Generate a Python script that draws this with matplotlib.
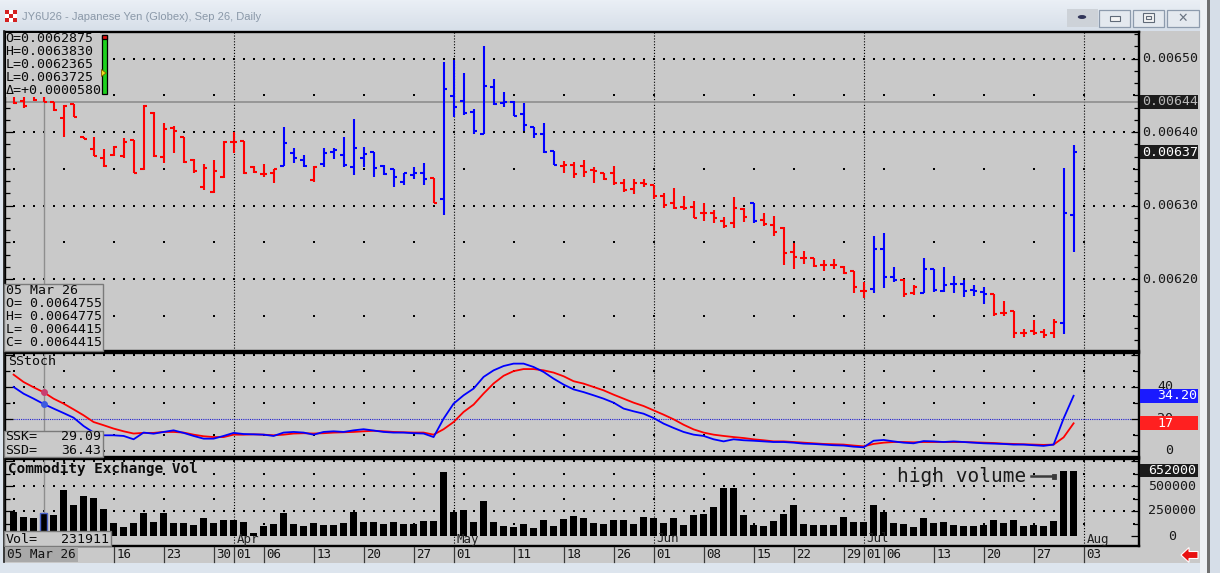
import numpy as np
import pandas as pd
import matplotlib
matplotlib.use("Agg")
import matplotlib.pyplot as plt
from matplotlib.patches import Rectangle, Polygon, Circle
from matplotlib.lines import Line2D
from matplotlib.ticker import MultipleLocator
from matplotlib.colors import LinearSegmentedColormap
import matplotlib.transforms as mtransforms

W, H = 1220, 573

# ---------------- data ----------------
PRICE_UNIT = 1e-7   # prices below are in units of 0.0000001
open_px = [64700, 64420, 64600, 64755, 64411, 64194, 64384, 63935, 63772, 63650,
           63690, 63676, 63894, 63500, 64261, 63663, 64057, 63935, 63622, 63255,
           63187, 63391, 63867, 63880, 63527, 63432, 63445, 63540, 63717, 63622,
           63350, 63568, 63731, 63690, 63527, 63650, 63731, 63540, 63500, 63323,
           63418, 63445, 63377, 63092, 64493, 64425, 64275, 63976, 64615, 64398,
           64411, 64248, 64071, 63976, 63744, 63540, 63554, 63540, 63486, 63445,
           63445, 63309, 63228, 63309, 63282, 63132, 63037, 62983, 62983, 62901,
           62901, 62793, 62765, 62956, 63037, 62806, 62738, 62698, 62371, 62289,
           62289, 62194, 62194, 62167, 62113, 61840, 61868, 62412, 62031, 61990,
           61813, 61813, 62140, 61840, 61936, 61936, 61854, 61827, 61800, 61541,
           61568, 61269, 61296, 61283, 61269, 61405, 62875]
high_px = [64780, 64600, 64650, 64775, 64415, 64370, 64384, 63935, 63935, 63772,
           63812, 63921, 63894, 64370, 64275, 64125, 64084, 63935, 63636, 63568,
           63622, 63880, 64003, 63880, 63540, 63568, 63500, 64071, 63785, 63690,
           63540, 63785, 63785, 63935, 64180, 63799, 63731, 63554, 63500, 63445,
           63527, 63581, 63377, 64955, 64982, 64805, 64316, 65173, 64724, 64547,
           64425, 64398, 64071, 64125, 63744, 63609, 63595, 63622, 63527, 63445,
           63540, 63364, 63364, 63364, 63282, 63173, 63241, 63132, 63064, 63037,
           62942, 62847, 63119, 62969, 63037, 62901, 62860, 62711, 62494, 62385,
           62289, 62262, 62276, 62181, 62113, 61963, 62588, 62629, 62167, 62004,
           61922, 62289, 62140, 62167, 62044, 61990, 61922, 61895, 61800, 61705,
           61568, 61324, 61446, 61324, 61460, 63513, 63830]
low_px = [64384, 64329, 64430, 64415, 64289, 63935, 64207, 63908, 63676, 63527,
          63676, 63650, 63445, 63486, 63663, 63581, 63717, 63581, 63445, 63214,
          63173, 63377, 63717, 63432, 63445, 63391, 63309, 63540, 63581, 63527,
          63323, 63527, 63636, 63527, 63418, 63527, 63391, 63418, 63255, 63282,
          63364, 63282, 63038, 62874, 64207, 64234, 63976, 63976, 64370, 64343,
          64220, 64016, 63921, 63717, 63554, 63445, 63377, 63391, 63309, 63350,
          63282, 63187, 63160, 63255, 63092, 62969, 62956, 62942, 62834, 62793,
          62765, 62698, 62698, 62779, 62765, 62724, 62588, 62194, 62140, 62208,
          62167, 62113, 62140, 62072, 61813, 61745, 61813, 61881, 61963, 61759,
          61786, 61813, 61827, 61827, 61813, 61759, 61772, 61664, 61501, 61501,
          61201, 61215, 61242, 61201, 61201, 61256, 62365]
close_px = [64400, 64356, 64440, 64415, 64302, 64356, 64207, 63908, 63676, 63540,
            63799, 63867, 63445, 64356, 63676, 64044, 64016, 63595, 63472, 63513,
            63472, 63867, 63860, 63445, 63459, 63430, 63500, 63853, 63650, 63540,
            63527, 63717, 63758, 63554, 63785, 63704, 63513, 63432, 63391, 63445,
            63445, 63364, 63038, 64588, 64343, 64261, 64016, 64629, 64384, 64411,
            64220, 64098, 63976, 63731, 63554, 63554, 63432, 63459, 63472, 63364,
            63309, 63214, 63309, 63296, 63132, 63010, 62969, 62969, 62834, 62901,
            62834, 62724, 62969, 62847, 62793, 62752, 62643, 62358, 62303, 62289,
            62181, 62194, 62194, 62085, 61894, 61840, 62412, 62031, 61990, 61800,
            61895, 62140, 61854, 61922, 61936, 61840, 61840, 61800, 61528, 61541,
            61269, 61269, 61269, 61242, 61419, 62901, 63725]
# bar colour codes: R = red, B = blue
bar_codes = ("RRRRRRRRRRRRRRRRRRRRRRRRRRR" "BBB" "R" "BBBBBBBBBBB" "R"
             "BBBBBBBBBBBB" "RRRRRRRRRRRRRRRRRRR" "B" "RRRRRRRRRRR" "BBB" "RR"
             "BBBBBBB" "RRRRRRR" "BB")
volume = [245000, 194000, 184000, 231911, 211000, 456000, 313000, 405000, 377000, 272000,
          126000, 92000, 126000, 228000, 143000, 228000, 126000, 126000, 109000, 177000,
          126000, 160000, 160000, 136000, 34000, 102000, 116000, 228000, 116000, 102000,
          126000, 109000, 109000, 126000, 238000, 143000, 143000, 119000, 136000, 119000,
          119000, 150000, 150000, 636000, 238000, 262000, 136000, 354000, 136000, 102000,
          92000, 116000, 82000, 158000, 102000, 170000, 201000, 184000, 126000, 119000,
          160000, 160000, 119000, 190000, 177000, 126000, 177000, 109000, 211000, 218000,
          286000, 483000, 483000, 211000, 109000, 99000, 150000, 218000, 313000, 116000,
          109000, 109000, 109000, 187000, 143000, 143000, 313000, 238000, 126000, 116000,
          92000, 177000, 133000, 143000, 109000, 102000, 102000, 109000, 160000, 127000,
          160000, 100000, 110000, 100000, 150000, 648000, 652000]
ssk = [39.7, 35.5, 32.4, 29.09, 26.2, 23.4, 20.5, 15.3, 11.2, 9.5,
       9.5, 9.1, 7.0, 11.2, 10.5, 11.6, 12.6, 11.0, 9.1, 7.4,
       7.4, 9.1, 11.0, 10.3, 10.1, 9.9, 9.1, 11.2, 11.6, 11.2,
       9.9, 11.6, 12.0, 11.6, 12.6, 13.3, 12.5, 11.6, 11.2, 11.2,
       10.8, 10.6, 8.4, 19.9, 29.3, 34.5, 38.7, 46.0, 50.1, 52.8,
       54.3, 54.3, 52.2, 49.1, 44.9, 41.2, 38.2, 36.5, 34.5, 32.4,
       29.9, 26.2, 24.5, 23.0, 20.3, 16.8, 14.1, 11.6, 9.9, 9.1,
       7.0, 5.7, 7.0, 6.4, 6.1, 5.7, 5.3, 5.3, 4.9, 4.3,
       4.1, 3.7, 3.3, 3.1, 2.4, 2.0, 6.1, 6.6, 5.7, 4.9,
       4.5, 5.9, 5.7, 5.3, 5.7, 5.3, 4.9, 4.5, 4.3, 4.1,
       3.7, 3.7, 3.3, 2.9, 3.7, 20.0, 34.20]
ssd = [47.4, 42.8, 39.5, 36.43, 32.4, 29.3, 25.7, 22.0, 17.8, 15.8,
       13.7, 12.0, 10.6, 11.0, 11.0, 11.6, 11.6, 11.2, 9.9, 8.9,
       8.4, 8.4, 9.9, 9.9, 10.1, 9.9, 9.5, 9.9, 10.6, 10.8,
       10.6, 10.8, 11.2, 11.4, 11.6, 12.0, 12.3, 12.0, 11.6, 11.4,
       11.2, 11.2, 9.9, 13.3, 17.8, 24.1, 28.7, 35.6, 41.9, 46.7,
       49.6, 50.9, 50.9, 50.1, 48.7, 46.4, 43.3, 41.8, 39.7, 37.6,
       34.9, 32.4, 29.9, 27.8, 25.1, 22.4, 19.5, 16.1, 13.2, 11.2,
       9.9, 9.1, 8.4, 7.8, 7.0, 6.4, 5.7, 5.7, 5.3, 4.9,
       4.5, 4.1, 3.9, 3.7, 3.1, 2.6, 4.1, 4.9, 5.3, 5.3,
       5.1, 5.3, 5.3, 5.3, 5.3, 5.3, 5.1, 4.9, 4.7, 4.3,
       4.1, 3.9, 3.7, 3.5, 3.7, 8.2, 17.0]

holidays = ["2026-05-25", "2026-06-19", "2026-07-03"]
first_date, last_date, axis_end_date = "2026-03-02", "2026-07-31", "2026-08-21"
selected_date = "2026-03-05"
label_dates = ["2026-03-16", "2026-03-23", "2026-03-30", "2026-04-01", "2026-04-06",
               "2026-04-13", "2026-04-20", "2026-04-27", "2026-05-01", "2026-05-11",
               "2026-05-18", "2026-05-26", "2026-06-01", "2026-06-08", "2026-06-15",
               "2026-06-22", "2026-06-29", "2026-07-01", "2026-07-06", "2026-07-13",
               "2026-07-20", "2026-07-27", "2026-08-03"]
month_dates = ["2026-04-01", "2026-05-01", "2026-06-01", "2026-07-01", "2026-08-03"]
month_names = ["Apr", "May", "Jun", "Jul", "Aug"]
price_levels = [0.0062, 0.0063, 0.0064, 0.0065]
price_half_levels = [0.00615, 0.00625, 0.00635, 0.00645]
stoch_levels = [0, 40, 60]
stoch_half_levels = [10, 30, 50]
stoch_labels = [0, 20, 40]
vol_levels = [250000, 500000, 750000]
vol_half_levels = [125000, 375000, 625000]
vol_labels = [0, 250000, 500000]
title_text = "JY6U26 - Japanese Yen (Globex), Sep 26, Daily"
last_change_text = "\u0394=+0.0000580"

# ---------------- derived ----------------
all_dates = pd.bdate_range(first_date, axis_end_date)
all_dates = all_dates[~all_dates.isin(pd.to_datetime(holidays))]
pos = {d: i for i, d in enumerate(all_dates)}
n = len(open_px)
x = np.arange(n)
O = np.array(open_px) * PRICE_UNIT
Hh = np.array(high_px) * PRICE_UNIT
L = np.array(low_px) * PRICE_UNIT
C = np.array(close_px) * PRICE_UNIT
RED, BLUE = "#ff0000", "#0000ff"
cols = [RED if c == "R" else BLUE for c in bar_codes]
sel = pos[pd.Timestamp(selected_date)]
week_starts = sorted(set(pd.Series(range(len(all_dates)),
                                   index=all_dates).groupby(all_dates.to_period("W")).min()))
label_pos = [pos[pd.Timestamp(d)] for d in label_dates]
month_pos = [pos[pd.Timestamp(d)] for d in month_dates]

PANEL = "#c9c9c9"
MONO = "DejaVu Sans Mono"
XLIM = (-0.86, 112.54)

fig = plt.figure(figsize=(W / 100, H / 100), dpi=100)
fig.patch.set_facecolor("#dde5ee")


def px_axes(l, t, r, b):
    return fig.add_axes([l / W, 1 - b / H, (r - l) / W, (b - t) / H])


def frect(l, t, r, b, **kw):
    p = Rectangle((l / W, 1 - b / H), (r - l) / W, (b - t) / H,
                  transform=fig.transFigure, **kw)
    fig.add_artist(p)
    return p


def ftext(xp, yp, s, **kw):
    return fig.text(xp / W, 1 - yp / H, s, **kw)


# background pieces
frect(3, 31, 1200, 563, facecolor=PANEL, edgecolor="none", zorder=-2)
frect(1200, 0, 1207, 573, facecolor="#eef1f5", edgecolor="none", zorder=-2)
frect(1207, 0, 1210, 573, facecolor="#707070", edgecolor="none", zorder=-2)
frect(1210, 0, 1220, 573, facecolor="#d6dee8", edgecolor="none", zorder=-2)

# title bar
ax_t = px_axes(0, 0, 1200, 31)
grad = np.linspace(0, 1, 31).reshape(-1, 1)
ax_t.imshow(grad, aspect="auto", cmap=LinearSegmentedColormap.from_list("tb", ["#eaeff5", "#d7dfe9"]),
            extent=(0, 1, 0, 1))
ax_t.set_axis_off()
ax_t.set_zorder(-1)
# icon
for r_ in range(3):
    for c_ in range(3):
        frect(5 + c_ * 4, 10 + r_ * 4, 9 + c_ * 4, 14 + r_ * 4,
              facecolor=("#d42020" if (r_ + c_) % 2 == 0 else "#ffffff"),
              edgecolor="none", zorder=3)
ftext(22, 17, title_text, fontsize=8.0, color="#8a98a8", va="center", ha="left",
      family="Liberation Sans")
# window buttons
frect(1067, 9, 1098, 27, facecolor="#cdd2d8", edgecolor="none", zorder=2)
fig.add_artist(Circle((1082 / W, 1 - 17 / H), 4.2 / W, transform=fig.transFigure,
                      facecolor="#303458", edgecolor="none", zorder=3))
for l_, r_ in [(1099, 1130), (1133, 1164), (1167, 1199)]:
    frect(l_, 10, r_, 27, facecolor="#e4e9ef", edgecolor="#8d9bad", lw=0.9, zorder=2)
frect(1110, 16.5, 1120, 20.5, facecolor="#f4f4f4", edgecolor="#606a78", lw=0.8, zorder=3)
frect(1143, 13, 1154, 22, facecolor="#f4f4f4", edgecolor="#606a78", lw=0.8, zorder=3)
frect(1146, 16, 1151, 19, facecolor="#f4f4f4", edgecolor="#606a78", lw=0.8, zorder=3)
ftext(1183, 18, "\u2715", fontsize=9, color="#6a7482", ha="center", va="center",
      family="DejaVu Sans", weight="bold")

# ---------------- axes ----------------
ax_p = px_axes(5, 32, 1139, 351)
ax_s = px_axes(5, 353, 1139, 457)
ax_v = px_axes(5, 459, 1139, 546)

p_top = 0.0065 + (58.7 - 32) / 73.5 * 0.0001
p_bot = p_top - 319 / 73.5 * 0.0001
ax_p.set_ylim(p_bot, p_top)
ax_s.set_ylim((450.5 - 457) / 1.6, (450.5 - 353) / 1.6)
ax_v.set_ylim(-100000, 770000)

for ax in (ax_p, ax_s, ax_v):
    ax.set_xlim(*XLIM)
    ax.set_facecolor(PANEL)
    for sp in ax.spines.values():
        sp.set_linewidth(1.7)
        sp.set_color("black")
    ax.tick_params(axis="x", bottom=False, labelbottom=False)
    ax.tick_params(axis="y", which="both", left=True, right=True, direction="in",
                   labelleft=False, labelright=False, colors="black", width=0.9)
    ax.tick_params(axis="y", which="major", length=6)
    ax.tick_params(axis="y", which="minor", length=3.5)
    for mp in month_pos:
        ax.axvline(mp, color="black", lw=0.8, ls=(0, (1, 1.6)), zorder=1)
    ax.axvline(sel, color="#8e8e8e", lw=1.0, zorder=1.2)

ax_p.yaxis.set_major_locator(MultipleLocator(0.0001))
ax_p.yaxis.set_minor_locator(MultipleLocator(0.0001 / 6))
ax_s.yaxis.set_major_locator(MultipleLocator(20))
ax_s.yaxis.set_minor_locator(MultipleLocator(10))
ax_v.yaxis.set_major_locator(MultipleLocator(250000))
ax_v.yaxis.set_minor_locator(MultipleLocator(125000))

grid_x = np.arange(0, 113)


def dot_grid(ax, levels, half_levels):
    for lv in levels:
        ax.scatter(grid_x, np.full(len(grid_x), lv), s=1.0, marker="s", color="black",
                   linewidths=0, zorder=1)
    for lv in half_levels:
        ax.scatter(week_starts, np.full(len(week_starts), lv), s=1.0, marker="s",
                   color="black", linewidths=0, zorder=1)


dot_grid(ax_p, price_levels, price_half_levels)
dot_grid(ax_s, stoch_levels, stoch_half_levels)
dot_grid(ax_v, vol_levels, vol_half_levels)

# price bars
ax_p.axhline(C[sel], color="#8e8e8e", lw=1.2, zorder=1.2)
lw_bar = 1.5
ax_p.vlines(x, L, Hh, colors=cols, lw=lw_bar, capstyle="butt", zorder=3)
ax_p.hlines(O, x - 0.38, x, colors=cols, lw=lw_bar, capstyle="butt", zorder=3)
ax_p.hlines(C, x, x + 0.38, colors=cols, lw=lw_bar, capstyle="butt", zorder=3)

# stochastic
ax_s.axhline(20, color="#2020d0", lw=0.8, ls=(0, (1, 1)), zorder=1.5)
ax_s.plot(x, ssd, color=RED, lw=1.3, zorder=3)
ax_s.plot(x, ssk, color=BLUE, lw=1.3, zorder=3)
ax_s.plot([sel], [ssd[sel]], "o", ms=4, color="#c84070", zorder=4)
ax_s.plot([sel], [ssk[sel]], "o", ms=4, color="#3c5ae0", zorder=4)

# volume
vbars = ax_v.bar(x, volume, width=0.75, color="black", linewidth=0, zorder=3)
vbars[sel].set_edgecolor("#4a62c8")
vbars[sel].set_linewidth(1.0)

# ---------------- right axis labels ----------------
tp = mtransforms.blended_transform_factory(fig.transFigure, ax_p.transData)
ts = mtransforms.blended_transform_factory(fig.transFigure, ax_s.transData)
tv = mtransforms.blended_transform_factory(fig.transFigure, ax_v.transData)
for lv in price_levels:
    fig.text(1142 / W, lv, f"{lv:.5f}", transform=tp, fontsize=9.5, family=MONO,
             color="#181818", va="center", ha="left")
p_px = (p_top - p_bot) / 319
for val, fc, tc in [(C[sel], "#1c1c1c", "#b8b8b8"), (C[-1], "#1c1c1c", "#ffffff")]:
    fig.add_artist(Rectangle((1140 / W, val - 7 * p_px), 58 / W, 14 * p_px,
                             transform=tp, facecolor=fc, edgecolor="none", zorder=4))
    fig.text(1142 / W, val, f"{val:.5f}", transform=tp, fontsize=9.5, family=MONO,
             color=tc, va="center", ha="left", zorder=5)

for lv in stoch_labels:
    fig.text(1173 / W, lv, f"{lv}", transform=ts, fontsize=9.5, family=MONO,
             color="#181818", va="center", ha="right")
s_px = 1 / 1.6
for val, txt, fc in [(ssk[-1], f"{ssk[-1]:.2f}", "#1a1aff"), (ssd[-1], f"{ssd[-1]:.0f}", "#ff2020")]:
    fig.add_artist(Rectangle((1140 / W, val - 7 * s_px), 58 / W, 14 * s_px,
                             transform=ts, facecolor=fc, edgecolor="none", zorder=4))
    fig.text(1157 / W, val, txt, transform=ts, fontsize=9.5, family=MONO,
             color="white", va="center", ha="left", zorder=5)

for lv in vol_labels:
    fig.text(1172 / W, lv, f"{lv}", transform=tv, fontsize=9.5, family=MONO,
             color="#181818", va="center", ha="center")
v_px = 10000
fig.add_artist(Rectangle((1140 / W, volume[-1] - 6.5 * v_px), 58 / W, 13 * v_px,
                         transform=tv, facecolor="#1c1c1c", edgecolor="none", zorder=4))
fig.text(1172 / W, volume[-1], f"{volume[-1]}", transform=tv, fontsize=9.5, family=MONO,
         color="white", va="center", ha="center", zorder=5)

# ---------------- date strip ----------------
td = mtransforms.blended_transform_factory(ax_v.transData, fig.transFigure)
td_off = mtransforms.offset_copy(td, fig=fig, x=3, y=0, units="dots")
for lp, ld in zip(label_pos, label_dates):
    fig.add_artist(Line2D([lp, lp], [1 - 547 / H, 1 - 562 / H], transform=td,
                          color="#3a3a3a", lw=0.9, zorder=3))
    fig.text(lp, 1 - 554 / H, pd.Timestamp(ld).strftime("%d"), transform=td_off,
             fontsize=9, family=MONO, color="#141414", va="center", ha="left")
frect(5, 547, 78, 562, facecolor="#a9a9a9", edgecolor="none", zorder=3)
ftext(7, 554, pd.Timestamp(selected_date).strftime("%d %b %y"), fontsize=9.2,
      family=MONO, color="#141414", va="center", ha="left", zorder=4)
for mp, mn in zip(month_pos, month_names):
    fig.text(mp, 1 - 539 / H, mn, transform=td_off, fontsize=9, family=MONO,
             color="#202020", va="center", ha="left", zorder=3)

# ---------------- overlay boxes / text ----------------
# top-left OHLC box for last bar
frect(5.8, 33, 100, 96.5, facecolor=PANEL, edgecolor="none", zorder=2)
ohlc_lines = [f"O={O[-1]:.7f}", f"H={Hh[-1]:.7f}", f"L={L[-1]:.7f}",
              f"L={C[-1]:.7f}", last_change_text]
for k, s in enumerate(ohlc_lines):
    ftext(5.5, 39 + k * 12.8, s, fontsize=9.5, family=MONO, color="#0a0a0a",
          va="center", ha="left", zorder=3)
frect(102, 35, 107, 94, facecolor="#1ed21e", edgecolor="black", lw=0.9, zorder=3)
frect(102, 35, 107, 39, facecolor="#e01010", edgecolor="black", lw=0.9, zorder=3)
fig.add_artist(Polygon([(101.5 / W, 1 - 69.5 / H), (101.5 / W, 1 - 76.5 / H),
                        (106 / W, 1 - 73 / H)], closed=True, transform=fig.transFigure,
                       facecolor="#f0e020", edgecolor="#806000", lw=0.6, zorder=4))

# bottom-left info box for selected bar
frect(3.8, 283.5, 102.5, 350.5, facecolor=PANEL, edgecolor="#7a7a7a", lw=1.0, zorder=2)
info_lines = [pd.Timestamp(selected_date).strftime("%d %b %y"),
              f"O= {O[sel]:.7f}", f"H= {Hh[sel]:.7f}", f"L= {L[sel]:.7f}",
              f"C= {C[sel]:.7f}"]
for k, s in enumerate(info_lines):
    ftext(5.5, 290.7 + k * 13.0, s, fontsize=9.5, family=MONO, color="#0a0a0a",
          va="center", ha="left", zorder=3)

ftext(8, 361.5, "SStoch", fontsize=9.5, family=MONO, color="#0a0a0a",
      va="center", ha="left", zorder=3)
frect(3.8, 430.7, 102.5, 456.5, facecolor=PANEL, edgecolor="#7a7a7a", lw=1.0, zorder=2)
for k, (nm, val) in enumerate([("SSK=", ssk[sel]), ("SSD=", ssd[sel])]):
    ftext(5.5, 437 + k * 13.2, nm, fontsize=9.5, family=MONO, color="#0a0a0a",
          va="center", ha="left", zorder=3)
    ftext(101, 437 + k * 13.2, f"{val:.2f}", fontsize=9.5, family=MONO, color="#0a0a0a",
          va="center", ha="right", zorder=3)

ftext(8, 468.5, "Commodity Exchange Vol", fontsize=10.3, family=MONO, weight="bold",
      color="#0a0a0a", va="center", ha="left", zorder=3)
frect(3.8, 531, 110.5, 546, facecolor=PANEL, edgecolor="#7a7a7a", lw=1.0, zorder=2)
ftext(5.5, 539.5, "Vol=", fontsize=9.5, family=MONO, color="#0a0a0a",
      va="center", ha="left", zorder=3)
ftext(108.5, 539.5, f"{volume[sel]}", fontsize=9.5, family=MONO, color="#0a0a0a",
      va="center", ha="right", zorder=3)

# annotation
ftext(897, 476, "high volume", fontsize=14, family=MONO, color="#1a1a1a",
      va="center", ha="left", zorder=3)
fig.add_artist(Line2D([1031 / W, 1052 / W], [1 - 476 / H, 1 - 476 / H],
                      transform=fig.transFigure, color="#3a3a3a", lw=1.8, zorder=3))
frect(1051.5, 473.5, 1055.5, 478.5, facecolor="#3a3a3a", edgecolor="#3a3a3a", lw=0.6, zorder=3)

# left frame line
fig.add_artist(Line2D([4 / W, 4 / W], [1 - 31 / H, 1 - 562 / H], transform=fig.transFigure,
                      color="#202020", lw=1.2, zorder=1))

# red arrow icon (bottom right)
arrow_pts = [(1181, 555), (1189, 547.5), (1189, 551.5), (1198, 551.5),
             (1198, 558.5), (1189, 558.5), (1189, 562.5)]
fig.add_artist(Polygon([(a / W, 1 - b / H) for a, b in arrow_pts], closed=True,
                       transform=fig.transFigure, facecolor="#e81010",
                       edgecolor="#ffffff", lw=0.8, zorder=3))

fig.savefig("out.png", dpi=100, facecolor=fig.get_facecolor())
